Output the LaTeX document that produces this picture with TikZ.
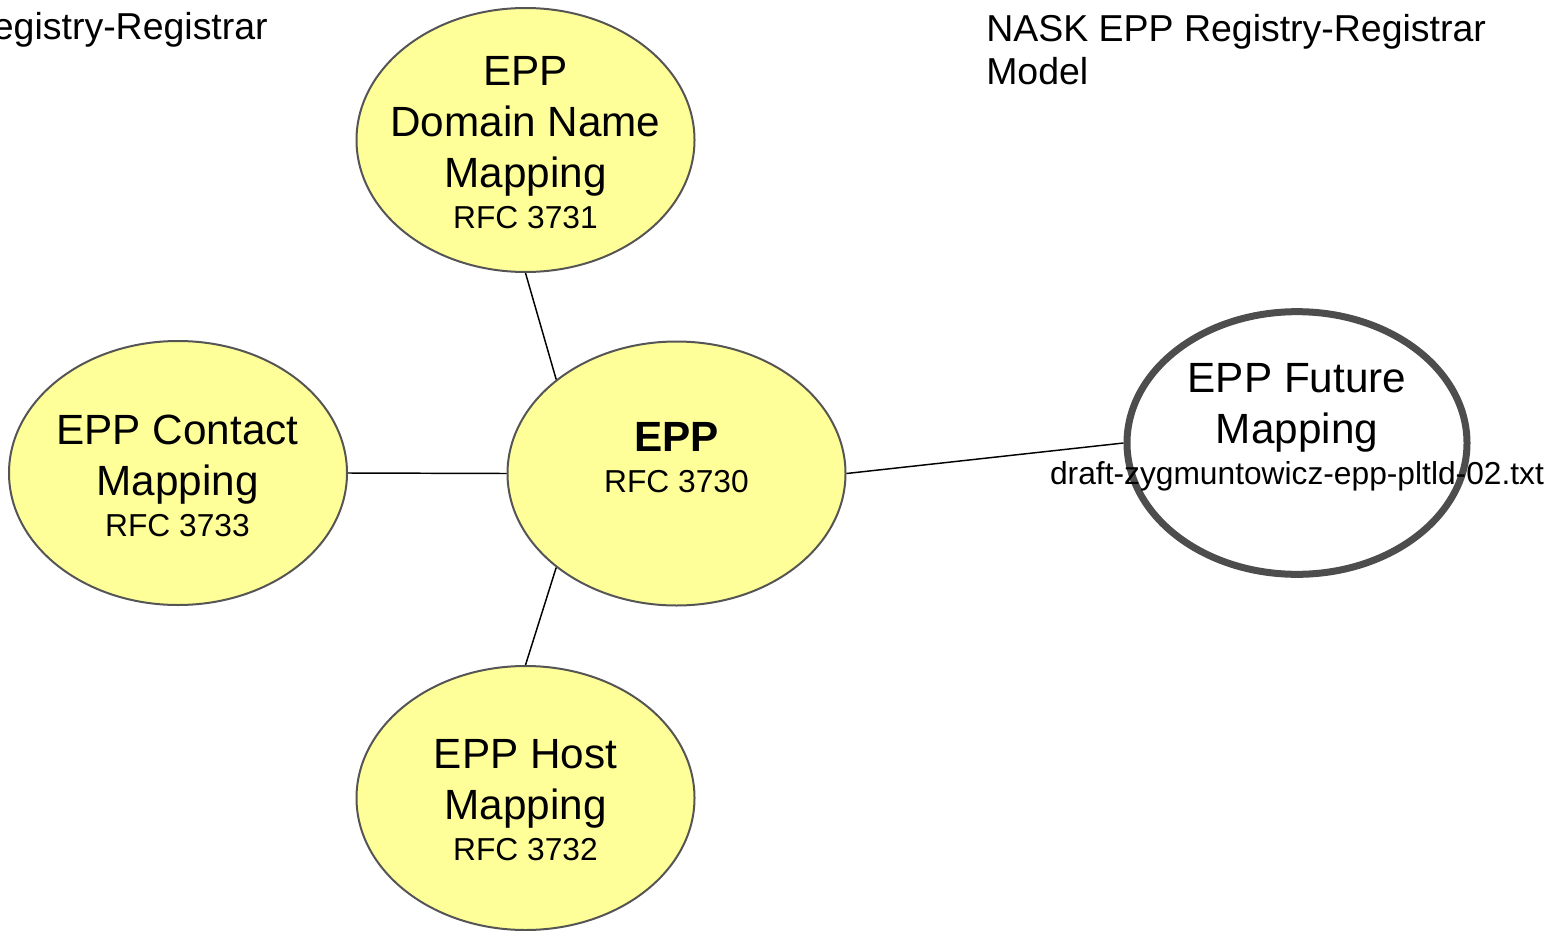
\documentclass[tikz,border=0pt]{standalone}
\usepackage{fontspec}
\setmainfont{Liberation Sans}
\usetikzlibrary{shapes.geometric}
\definecolor{nodefill}{HTML}{FFFF99}
\definecolor{rim}{HTML}{555555}
\definecolor{futurerim}{HTML}{4D4D4D}
\newcommand\rfcline[1]{{\fontsize{23.8}{28}\selectfont #1}}
\begin{document}
\begin{tikzpicture}[x=0.75pt,y=-0.75pt,
  bubble/.style={ellipse, draw=rim, line width=1.5pt, fill=nodefill,
    minimum width=253.5pt, minimum height=198pt, inner sep=0pt},
  futurebubble/.style={ellipse, draw=futurerim, line width=5.25pt, fill=white,
    minimum width=255pt, minimum height=197pt, inner sep=0pt},
  bubbletext/.style={align=center, inner sep=0pt, anchor=base,
    font=\fontsize{31.7}{38.25}\selectfont},
  titletext/.style={align=left, inner sep=0pt, font=\fontsize{28.1}{32.25}\selectfont},
  link/.style={draw=black, line width=1.1pt}
]
\useasboundingbox (0,0) rectangle (1563,931);

% bubbles
\node[bubble] (domain) at (525.5,140) {};
\node[bubble] (contact) at (178,473) {};
\node[bubble] (epp) at (676.5,473.5) {};
\node[bubble] (host) at (525.5,798) {};
\node[futurebubble] (future) at (1297,443) {};

% connectors
\draw[link] (domain.south) -- (epp.142);
\draw[link] (contact.east) -- (epp.west);
\draw[link] (host.north) -- (epp.218);
\draw[link] (epp.east) -- (future.west);

% texts (base anchor = baseline of the last line)
\node[bubbletext] (domaintext) at (525.5,228.3) {EPP\\Domain Name\\Mapping\\[-7.5pt]\rfcline{RFC 3731}};
\node[bubbletext] (contacttext) at (177.5,536) {EPP Contact\\Mapping\\[-7.5pt]\rfcline{RFC 3733}};
\node[bubbletext] (epptext) at (676.5,492.3) {\textbf{EPP}\\[-7.5pt]\rfcline{RFC 3730}};
\node[bubbletext] (hosttext) at (525.5,860) {EPP Host\\Mapping\\[-7.5pt]\rfcline{RFC 3732}};
\node[bubbletext] (futuretext) at (1297,484.3) {EPP Future\\Mapping\\[-7.5pt]\rfcline{draft-zygmuntowicz-epp-pltld-02.txt}};

\node[titletext, anchor=base west] (title) at (986,84.5) {NASK EPP Registry-Registrar\\Model};
\node[titletext, anchor=base east] (cuttitle) at (268,40) {egistry-Registrar};
\end{tikzpicture}
\end{document}
